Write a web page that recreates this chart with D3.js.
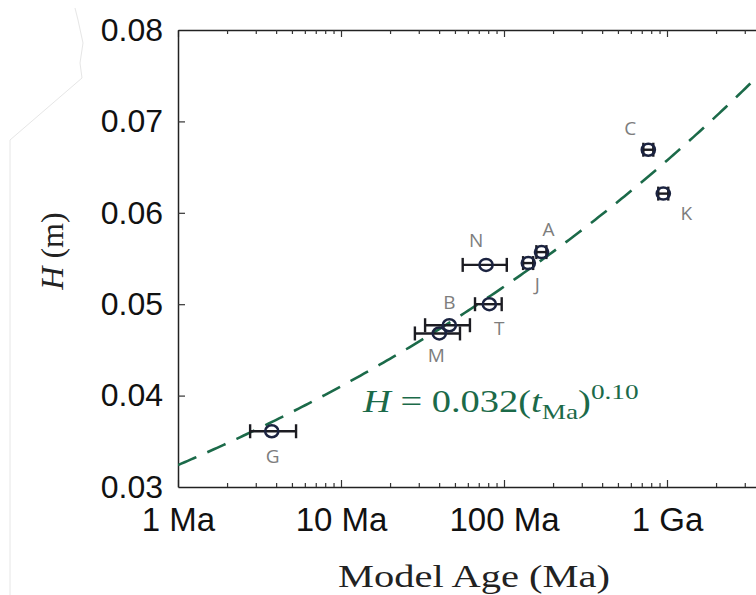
<!DOCTYPE html>
<html>
<head>
<meta charset="utf-8">
<script src="https://cdn.jsdelivr.net/npm/d3@7"></script>
<style>
  body { margin: 0; background: #fff; }
  svg { display: block; }
</style>
</head>
<body>
<svg id="chart" width="756" height="595"></svg>
<script>
// ---------- data ----------
const categories = ["G", "M", "B", "T", "N", "J", "A", "C", "K"];
const ageMa      = [3.76, 40.1, 46.2, 81.3, 77.6, 141, 170, 768, 949];
const ageLow     = [2.77, 28.4, 32.8, 66.4, 55.8, 131, 158, 716, 884];
const ageHigh    = [5.30, 53.7, 61.8, 96.8, 104, 151, 182, 824, 1018];
const heightM    = [0.0361, 0.0468, 0.0477, 0.0500, 0.0543, 0.0545, 0.0557, 0.0669, 0.0621];

const xMajorTicks  = [1, 10, 100, 1000];
const xMajorLabels = ["1 Ma", "10 Ma", "100 Ma", "1 Ga"];
const yTicks       = [0.03, 0.04, 0.05, 0.06, 0.07, 0.08];

// power-law fit shown on the chart: H = a * t^b
const fitCoef = 0.0324;
const fitExp  = 0.1024;

// ---------- layout ----------
const svg = d3.select("#chart");
const x = d3.scaleLog().domain([1, 10000]).range([178, 830]);
const y = d3.scaleLinear().domain([0.03, 0.08]).range([487, 30]);

const labelOffset = {
  G: [1, 25], M: [-3, 22], B: [0, -23], T: [10, 24], N: [-10, -25],
  J: [9, 21], A: [7, -23], C: [-18, -22], K: [23, 19]
};

// faint scan edge on the left
svg.append("path")
  .attr("d", "M10,595 L10,140 L82,78 L80,63 L83,43 L78,20 L75,8")
  .attr("fill", "none").attr("stroke", "#e6e6e6").attr("stroke-width", 1);

// all log ticks
const allTicks = [];
for (let k = 0; k < 4; k++) for (let m = 1; m <= 9; m++) allTicks.push(m * Math.pow(10, k));
allTicks.push(10000);
const labelMap = new Map(xMajorTicks.map((d, i) => [d, xMajorLabels[i]]));
const isMajor = d => Math.abs(Math.log10(d) - Math.round(Math.log10(d))) < 1e-9;

// bottom axis
const gx = svg.append("g").attr("transform", "translate(0,487)")
  .call(d3.axisBottom(x).tickValues(allTicks).tickSize(-4).tickSizeOuter(0)
    .tickPadding(21).tickFormat(d => labelMap.get(d) || ""));
gx.selectAll(".tick line").attr("y2", d => isMajor(d) ? -7 : -4);

// top axis
const gt = svg.append("g").attr("transform", "translate(0,30)")
  .call(d3.axisTop(x).tickValues(allTicks).tickSize(-4).tickSizeOuter(0).tickFormat(""));
gt.selectAll(".tick line").attr("y2", d => isMajor(d) ? 7 : 4);

// left axis
const gy = svg.append("g").attr("transform", "translate(178,0)")
  .call(d3.axisLeft(y).tickValues(yTicks).tickSize(-7).tickSizeOuter(0)
    .tickPadding(15).tickFormat(d3.format(".2f")));

[gx, gt, gy].forEach(g => {
  g.select(".domain").attr("stroke", "#222").attr("stroke-width", 1.5);
  g.selectAll(".tick line").attr("stroke", "#333").attr("stroke-width", 1.2);
});
gx.selectAll("text").attr("font-family", "'Liberation Sans', Arial, sans-serif")
  .attr("font-size", 33).attr("fill", "#111");
gy.selectAll("text").attr("font-family", "'Liberation Sans', Arial, sans-serif")
  .attr("font-size", 32).attr("fill", "#111");
gy.selectAll(".tick").filter(d => d === 0.03 || d === 0.08).select("line").remove();

// clip for the fit line
svg.append("defs").append("clipPath").attr("id", "plotclip")
  .append("rect").attr("x", 178).attr("y", 30).attr("width", 652).attr("height", 457);

// fit line
const fitT = d3.range(0, 4.001, 0.02).map(e => Math.pow(10, e));
const fitLine = d3.line().x(t => x(t)).y(t => y(fitCoef * Math.pow(t, fitExp)));
svg.append("path").datum(fitT)
  .attr("clip-path", "url(#plotclip)")
  .attr("d", fitLine)
  .attr("fill", "none").attr("stroke", "#1b6a49").attr("stroke-width", 2.6)
  .attr("stroke-dasharray", "20,12");

// data points
const pts = categories.map((c, i) => ({ c, t: ageMa[i], lo: ageLow[i], hi: ageHigh[i], h: heightM[i] }));
const gp = svg.append("g");
const capH = 7;
pts.forEach(p => {
  const cy = y(p.h);
  gp.append("line").attr("x1", x(p.lo)).attr("x2", x(p.hi)).attr("y1", cy).attr("y2", cy)
    .attr("stroke", "#1c1c22").attr("stroke-width", 2.4);
  [p.lo, p.hi].forEach(v => {
    gp.append("line").attr("x1", x(v)).attr("x2", x(v)).attr("y1", cy - capH).attr("y2", cy + capH)
      .attr("stroke", "#1c1c22").attr("stroke-width", 2.4);
  });
  gp.append("ellipse").attr("cx", x(p.t)).attr("cy", cy).attr("rx", 6.6).attr("ry", 6)
    .attr("fill", "none").attr("stroke", "#1b2340").attr("stroke-width", 2.5);
});
pts.forEach(p => {
  const o = labelOffset[p.c];
  gp.append("text").attr("x", x(p.t) + o[0]).attr("y", y(p.h) + o[1])
    .attr("text-anchor", "middle").attr("dominant-baseline", "central")
    .attr("font-family", "'Open Sans', 'Noto Sans', sans-serif").attr("font-size", 19)
    .attr("fill", "#7d7d7d").text(p.c);
});

// fit equation
const eq = svg.append("text").attr("x", 363).attr("y", 412)
  .attr("font-family", "'Liberation Serif', 'DejaVu Serif', serif").attr("font-size", 31)
  .attr("fill", "#1b6a49");
eq.append("tspan").attr("font-style", "italic").text("H");
eq.append("tspan").text(" = 0.032(");
eq.append("tspan").attr("font-style", "italic").text("t");
eq.append("tspan").attr("font-size", 22).attr("dy", 7).text("Ma");
eq.append("tspan").attr("dy", -7).text(")");
eq.append("tspan").attr("font-size", 22).attr("dy", -13).text("0.10");
{
  const w = eq.node().getBBox().width;
  const sx = 277 / w;
  eq.attr("transform", `translate(${363 * (1 - sx)},0) scale(${sx},1)`);
}

// axis titles
const xt = svg.append("text").attr("x", 338).attr("y", 587)
  .attr("font-family", "'Liberation Serif', 'DejaVu Serif', serif").attr("font-size", 32)
  .attr("fill", "#222").text("Model Age (Ma)");
xt.attr("textLength", 272).attr("lengthAdjust", "spacingAndGlyphs");

const yt = svg.append("text")
  .attr("transform", "translate(63,251) rotate(-90)")
  .attr("text-anchor", "middle")
  .attr("font-family", "'Liberation Serif', 'DejaVu Serif', serif").attr("font-size", 32)
  .attr("fill", "#222");
yt.append("tspan").attr("font-style", "italic").text("H");
yt.append("tspan").text(" (m)");
</script>
</body>
</html>
